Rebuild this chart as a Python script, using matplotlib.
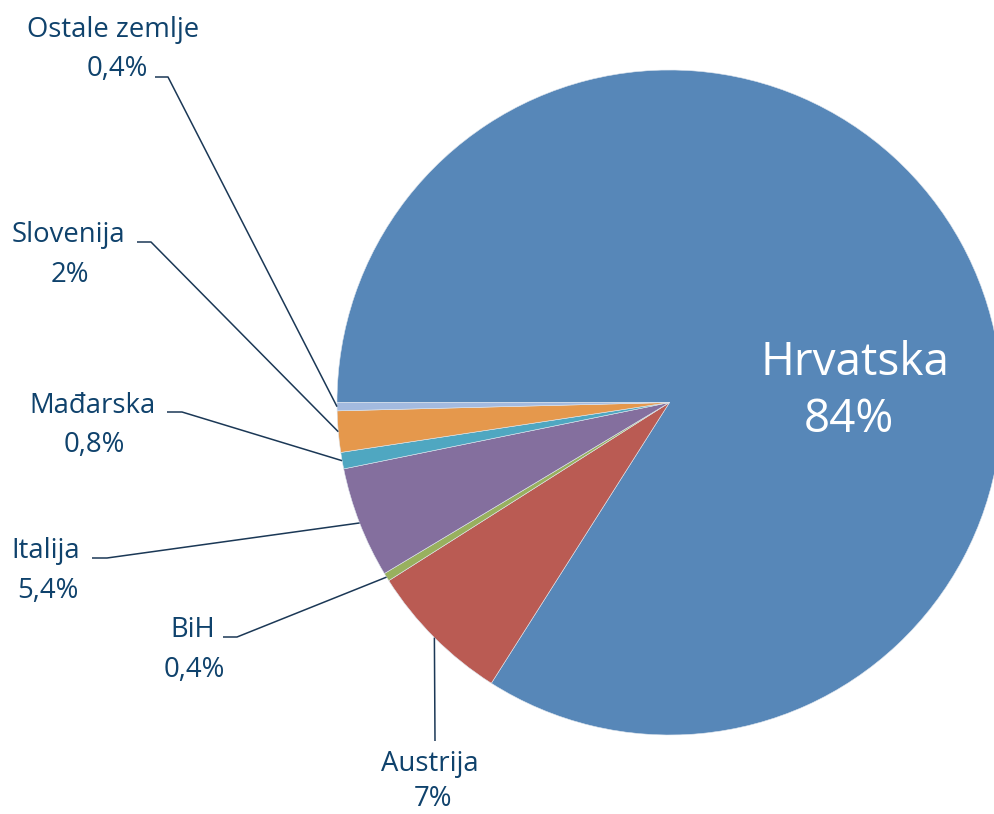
import numpy as np
import matplotlib.pyplot as plt

plt.rcParams['font.family'] = ['Open Sans', 'DejaVu Sans']

# Data (share of total, %)
countries = ['Hrvatska', 'Austrija', 'BiH', 'Italija', 'Mađarska', 'Slovenija', 'Ostale zemlje']
shares = [84, 7, 0.4, 5.4, 0.8, 2, 0.4]
share_labels = ['84%', '7%', '0,4%', '5,4%', '0,8%', '2%', '0,4%']
colors = ['#5787b8', '#ba5b53', '#98b05e', '#846f9e', '#4fa7c1', '#e5984c', '#a3badf']

W, H = 994, 814
text_color = '#0f426c'
line_color = '#1b3856'

fig = plt.figure(figsize=(W / 100, H / 100), dpi=100)
ax = fig.add_axes([0, 0, 1, 1])

cx, cy, r = 669.5, H - 402.5, 332.5
wedges, _ = ax.pie(shares, colors=colors, startangle=180, counterclock=False,
                   center=(cx, cy), radius=r,
                   wedgeprops=dict(edgecolor='#dfe6ee', linewidth=0.4))
ax.set_xlim(0, W)
ax.set_ylim(0, H)
ax.set_aspect('equal')
ax.axis('off')

def py(y):
    return H - y

# label layout (pixel coords, y from top): name pos, pct pos, leader elbow, leader end
layout = {
    'Ostale zemlje': ((113, 37), (117, 76), (168, 77), (155, 77)),
    'Slovenija': ((68, 242), (70, 282), (151, 242), (137, 242)),
    'Mađarska': ((92, 413), (94, 452), (182, 412), (167, 412)),
    'Italija': ((46, 558), (48, 598), (107, 558), (92, 558)),
    'BiH': ((193, 637), (194, 677), (237, 637), (223, 637)),
    'Austrija': ((430, 771), (433, 806), (435, 741), (435, 741)),
}

fs = 19.8
for w, name, pct in zip(wedges, countries, share_labels):
    if name == 'Hrvatska':
        ax.text(855, py(375), name, color='white', fontsize=33, ha='center', va='baseline')
        ax.text(849, py(432), pct, color='white', fontsize=33, ha='center', va='baseline')
        continue
    (nx, ny), (px, pyy), (ex, ey), (tx, ty) = layout[name]
    mid = np.deg2rad((w.theta1 + w.theta2) / 2)
    ax_x = cx + r * np.cos(mid)
    ax_y = cy + r * np.sin(mid)
    ax.plot([ax_x, ex, tx], [ax_y, py(ey), py(ty)], color=line_color, lw=1.1,
            solid_capstyle='butt')
    ax.text(nx, py(ny), name, color=text_color, fontsize=fs, ha='center', va='baseline')
    ax.text(px, py(pyy), pct, color=text_color, fontsize=fs, ha='center', va='baseline')

fig.savefig('out.png', dpi=100)
